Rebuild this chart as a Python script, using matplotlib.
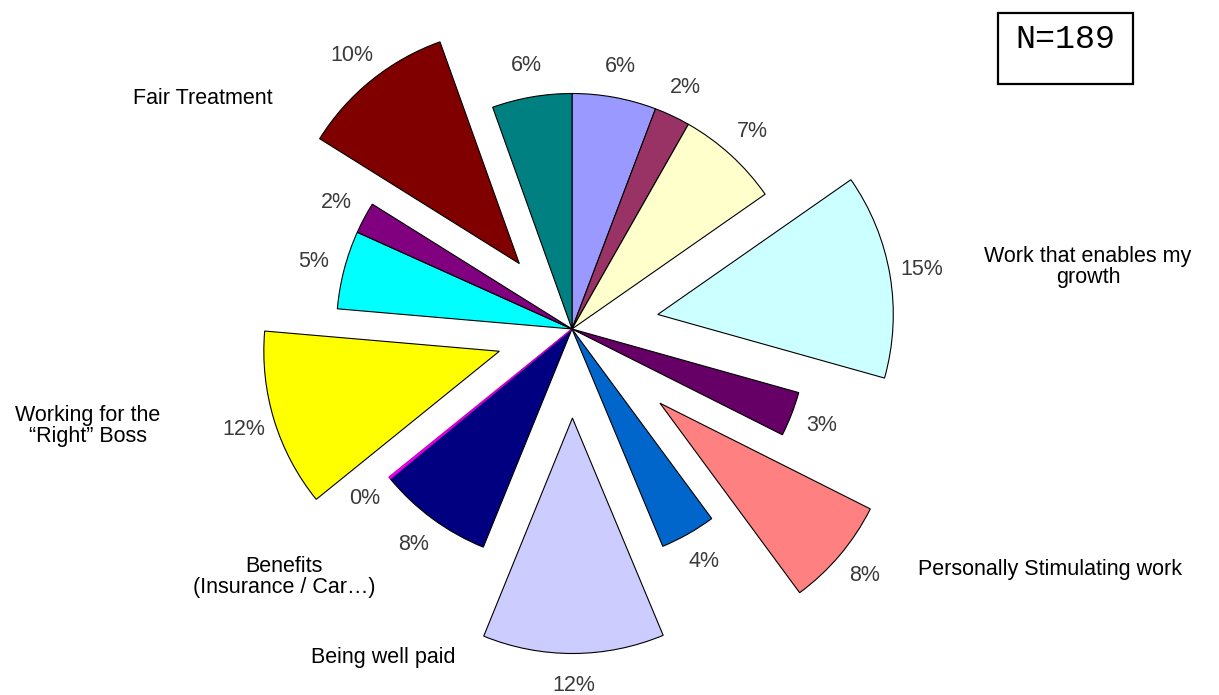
import matplotlib
matplotlib.use("Agg")
import matplotlib.pyplot as plt
from matplotlib.patches import Rectangle

plt.rcParams['font.family'] = ['Liberation Sans', 'DejaVu Sans']

# slice shares (clockwise from 12 o'clock)
shares = [5.75, 2.45, 7.05, 14.0, 3.05, 7.45, 3.8, 12.4, 7.85, 0.15,
          12.15, 5.35, 2.15, 10.6, 5.45]
# percentages printed next to each slice
shown_pct = [6, 2, 7, 15, 3, 8, 4, 12, 8, 0, 12, 5, 2, 10, 6]
colors = ['#9999FF', '#993366', '#FFFFCC', '#CCFFFF', '#660066', '#FF8080',
          '#0066CC', '#CCCCFF', '#000080', '#FF00FF', '#FFFF00', '#00FFFF',
          '#800080', '#800000', '#008080']
# offset of pulled-out slices, in pixels
explode = [0, 0, 0, 87, 0, 115, 0, 89, 0, 0, 76, 0, 0, 84, 0]

category_text = ["Fair Treatment", "Work that enables my\ngrowth",
                 "Working for the\n\u201cRight\u201d Boss",
                 "Benefits\n(Insurance / Car\u2026)", "Being well paid",
                 "Personally Stimulating work"]
category_xy = [(203, 99), (1088, 267), (88, 426), (284, 577), (383, 658),
               (1050, 570)]
n_text = "N=189"

W, H = 1219, 695
fig = plt.figure(figsize=(W / 100, H / 100), dpi=100)
ax = fig.add_axes([0, 0, 1, 1])

wedges, texts = ax.pie(shares, explode=explode, colors=colors,
                       labels=[f"{p}%" for p in shown_pct],
                       startangle=90, counterclock=False,
                       center=(572, H - 329), radius=235.5,
                       labeldistance=1.135,
                       wedgeprops=dict(edgecolor='black', linewidth=0.8),
                       textprops=dict(fontsize=15.5, color='#3a3a3a'))
for t in texts:
    t.set_ha('center')
    t.set_va('center')
wedges[9].set_edgecolor('#CC00CC')
wedges[9].set_linewidth(0.9)

for txt, (x, y) in zip(category_text, category_xy):
    ax.text(x, H - y, txt, fontsize=15.5, color='black', ha='center',
            va='center', linespacing=1.05)

ax.add_patch(Rectangle((998, H - 84), 135, 71, fill=False,
                       edgecolor='black', linewidth=1.6))
ax.text(1065, H - 39, n_text, family='Liberation Mono', fontsize=24,
        ha='center', va='center')

ax.set_xlim(0, W)
ax.set_ylim(0, H)
ax.set_aspect('auto')
ax.axis('off')

fig.savefig("out.png", dpi=100, facecolor='white')
